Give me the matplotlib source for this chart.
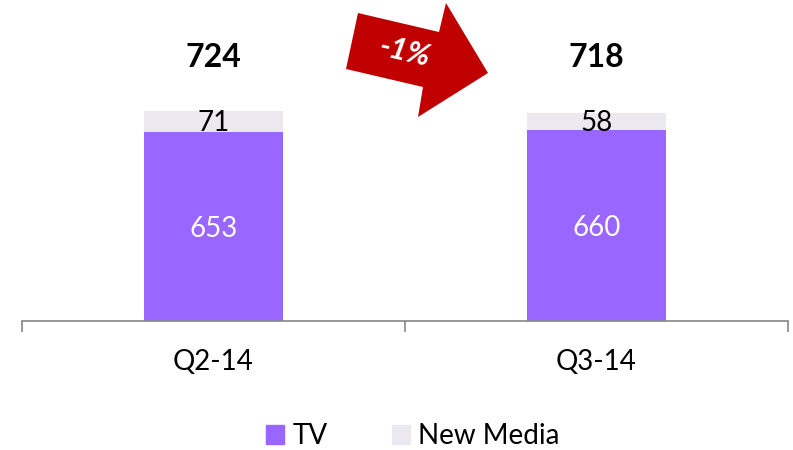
import matplotlib
matplotlib.use("Agg")
import matplotlib.pyplot as plt
from matplotlib.patches import Polygon, Patch

plt.rcParams['font.family'] = ['Lato', 'DejaVu Sans']

categories = ["Q2-14", "Q3-14"]
tv = [653, 660]
new_media = [71, 58]
totals = [724, 718]
change_label = "-1%"

tv_color = "#9966FF"
nm_color = "#EBE8F0"

fig = plt.figure(figsize=(7.93, 4.5), dpi=100)
ax = fig.add_axes([22 / 793, (450 - 321) / 450, 766 / 793, 321 / 450])

x = list(range(len(categories)))
ax.bar(x, tv, width=0.365, color=tv_color)
ax.bar(x, new_media, bottom=tv, width=0.365, color=nm_color)

for i in x:
    ax.text(i, tv[i] / 2 - 8, str(tv[i]), ha="center", va="center", color="white", fontsize=20)
    ax.text(i, tv[i] + new_media[i] / 2 - 6, str(new_media[i]), ha="center", va="center",
            color="black", fontsize=20)
    ax.text(i, 910, str(totals[i]), ha="center", va="center", fontsize=23, fontweight="bold")

ax.set_xlim(-0.5, 1.5)
ax.set_ylim(0, 1107)
ax.set_yticks([])
for s in ["top", "right", "left"]:
    ax.spines[s].set_visible(False)
ax.spines["bottom"].set_color("#868686")
ax.spines["bottom"].set_linewidth(1.2)
ax.set_xticks([-0.5, 0.5, 1.5])
ax.set_xticklabels([])
ax.tick_params(axis="x", which="major", length=8, width=1.2, color="#868686")
ax.set_xticks(x, minor=True)
ax.set_xticklabels(categories, minor=True, fontsize=20)
ax.tick_params(axis="x", which="minor", length=0, pad=20)

# red arrow (pixel coords, origin top-left)
pts = [(358, 13), (439, 32), (446, 3), (488, 73), (418, 117), (423, 87), (346, 69)]
arrow = Polygon([(px / 793, 1 - py / 450) for px, py in pts], closed=True,
                transform=fig.transFigure, facecolor="#C00000", edgecolor="none")
fig.patches.append(arrow)
fig.text(405 / 793, 1 - 52 / 450, change_label, color="white", fontsize=22,
         fontweight="bold", fontstyle="italic", ha="center", va="center", rotation=-13)

handles = [Patch(color=tv_color, label="TV"), Patch(color=nm_color, label="New Media")]
fig.legend(handles=handles, loc="center", bbox_to_anchor=(413 / 793, 1 - 436 / 450), ncol=2,
           frameon=False, fontsize=20, handlelength=0.65, handleheight=0.65,
           handletextpad=0.3, columnspacing=2.3)

fig.savefig("out.png", dpi=100)
